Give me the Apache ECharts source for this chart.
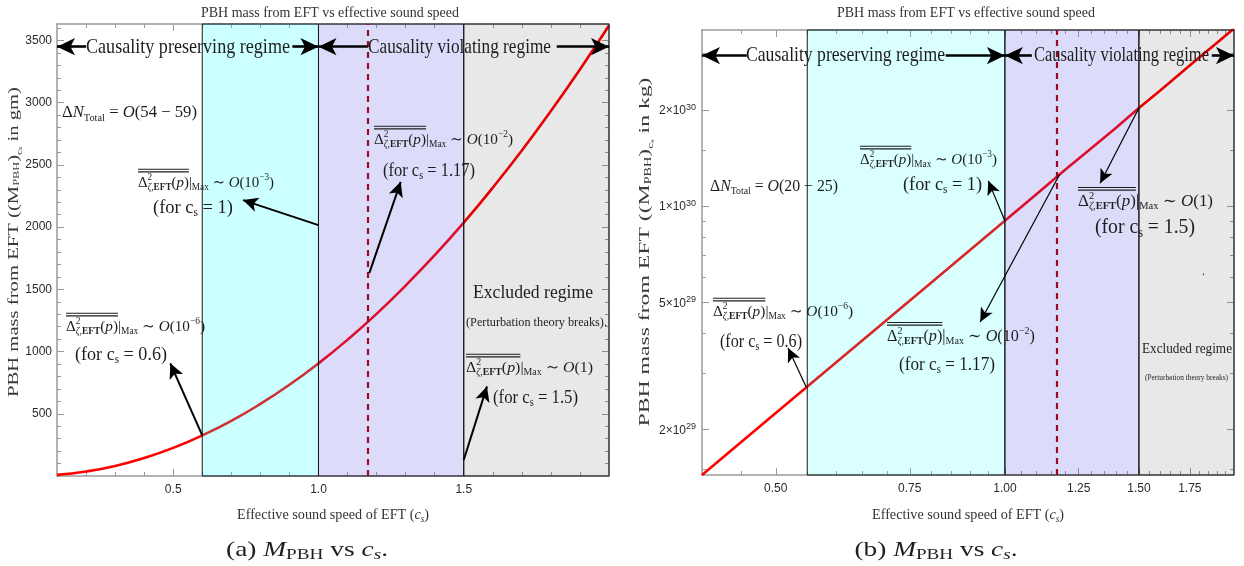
<!DOCTYPE html>
<html>
<head>
<meta charset="utf-8">
<script src="https://cdn.jsdelivr.net/npm/echarts@6/dist/echarts.min.js"></script>
<style>
  html, body { margin: 0; padding: 0; background: #fff; }
  #chart { width: 1244px; height: 566px; }
</style>
</head>
<body>
<div id="chart"></div>
<script>
// ---- Panel (a): PBH mass in grams against effective sound speed ----
const csA = [0.1, 0.2, 0.3, 0.4, 0.5, 0.6, 0.7, 0.8, 0.9, 1.0, 1.1, 1.2, 1.3, 1.4, 1.5, 1.6, 1.7, 1.8, 1.9, 2.0];
const massGm = [9, 36, 81, 145, 226, 326, 443, 579, 733, 905, 1095, 1303, 1530, 1774, 2036, 2317, 2615, 2932, 3267, 3620];

// ---- Panel (b): PBH mass in kilograms (log-log) ----
const csB = [0.4, 0.5, 0.6, 0.7, 0.8, 0.9, 1.0, 1.1, 1.2, 1.3, 1.4, 1.5, 1.6, 1.7, 1.8, 1.9, 2.0];
const massKg = [1.44e29, 2.25e29, 3.24e29, 4.41e29, 5.76e29, 7.29e29, 9.0e29, 1.09e30, 1.30e30, 1.52e30, 1.76e30, 2.03e30, 2.30e30, 2.60e30, 2.92e30, 3.25e30, 3.6e30];

// Regime boundaries: causal | causality violating | excluded
const regimesA = [0.6, 1.0, 1.5, 2.0];
const regimesB = [0.55, 1.0, 1.5, 2.0];
const csMarked = 1.17;

// Tick values
const xTicksA = [0.5, 1.0, 1.5];
const xMinorA = [0.2, 0.3, 0.4, 0.6, 0.7, 0.8, 0.9, 1.1, 1.2, 1.3, 1.4, 1.6, 1.7, 1.8, 1.9];
const yTicksA = [500, 1000, 1500, 2000, 2500, 3000, 3500];
const yMinorA = [100, 200, 300, 400, 600, 700, 800, 900, 1100, 1200, 1300, 1400, 1600, 1700, 1800, 1900,
                 2100, 2200, 2300, 2400, 2600, 2700, 2800, 2900, 3100, 3200, 3300, 3400, 3600];
const xTicksB = [0.5, 0.75, 1.0, 1.25, 1.5, 1.75];
const xMinorB = [0.45, 0.55, 0.6, 0.65, 0.7, 0.8, 0.85, 0.9, 0.95, 1.05, 1.1, 1.15, 1.2, 1.3, 1.35, 1.4, 1.45,
                 1.55, 1.6, 1.65, 1.7, 1.8, 1.85, 1.9, 1.95];
const yTicksB = [2e29, 5e29, 1e30, 2e30];
const yMinorB = [1.5e29, 3e29, 4e29, 6e29, 7e29, 8e29, 9e29, 1.5e30, 3e30];

// Annotation arrows [tail, head] in data coordinates
const arrowsA = {
  top: [[[0.2, 3450], [0.1, 3450]], [[0.91, 3450], [1.0, 3450]], [[1.17, 3450], [1.0, 3450]], [[1.82, 3450], [2.0, 3450]]],
  notes: [[[0.6, 326], [0.49, 905]], [[1.0, 2016], [0.74, 2217]], [[1.175, 1630], [1.283, 2364]], [[1.5, 128], [1.58, 720]]]
};
const arrowsB = {
  top: [[[0.458, 2.96e30], [0.4, 2.96e30]], [[0.836, 2.96e30], [1.0, 2.96e30]], [[1.085, 2.96e30], [1.0, 2.96e30]], [[1.87, 2.96e30], [2.0, 2.96e30]]],
  notes: [[[0.548, 2.72e29], [0.519, 3.6e29]], [[1.0, 9.0e29], [0.951, 1.2e30]], [[1.18, 1.257e30], [0.928, 4.34e29]], [[1.5, 2.03e30], [1.334, 1.18e30]]]
};

const FRAME = '#9a9a9a';
const INK = '#1e1e1e';
const SERIF = "'Liberation Serif','DejaVu Serif',serif";
const tickFont = { fontFamily: "'Liberation Sans Narrow','Liberation Sans',sans-serif", fontSize: 12, color: '#2a2a2a' };

// Four axes per direction: labelled + minor ticks, mirrored on the opposite side of the frame
function axisSet(kind, g, type, min, max, major, minor, label) {
  const pos = kind === 'x' ? ['bottom', 'top'] : ['left', 'right'];
  const base = { gridIndex: g, type: type, min: min, max: max, splitLine: { show: false }, splitArea: { show: false } };
  if (type === 'log') base.logBase = 10;
  const mk = (position, ticks, len, showLine, lab) => Object.assign({}, base, {
    position: position,
    axisLine: { show: showLine, onZero: false, lineStyle: { color: FRAME, width: 1.5 } },
    axisTick: { show: true, inside: true, length: len, customValues: ticks, lineStyle: { color: FRAME, width: 1 } },
    axisLabel: lab ? Object.assign({ customValues: major }, lab) : { show: false }
  });
  return [mk(pos[0], major, 7, true, label), mk(pos[0], minor, 4, false, null),
          mk(pos[1], major, 7, true, null), mk(pos[1], minor, 4, false, null)];
}

const xAxes = [].concat(
  axisSet('x', 0, 'value', 0.1, 2.0, xTicksA, xMinorA, Object.assign({ margin: 8, formatter: v => v.toFixed(1) }, tickFont)),
  axisSet('x', 1, 'log', 0.4, 2.0, xTicksB, xMinorB, Object.assign({ margin: 8, formatter: v => v.toFixed(2) }, tickFont))
);
const yAxes = [].concat(
  axisSet('y', 0, 'value', 0, 3632, yTicksA, yMinorA, Object.assign({ margin: 5, formatter: v => String(v) }, tickFont)),
  axisSet('y', 1, 'log', 1.44e29, 3.56e30, yTicksB, yMinorB, {
    margin: 6,
    formatter: v => {
      const e = Math.floor(Math.log10(v) + 1e-9);
      const m = Math.round(v / Math.pow(10, e));
      return '{m|' + m + '×10}{e|' + e + '}';
    },
    rich: {
      m: { fontFamily: tickFont.fontFamily, fontSize: 12, color: '#2a2a2a', verticalAlign: 'bottom', lineHeight: 14 },
      e: { fontFamily: tickFont.fontFamily, fontSize: 9, color: '#2a2a2a', verticalAlign: 'top', lineHeight: 10 }
    }
  })
);

function regimeAreas(b, cyanAlpha) {
  return [
    [{ xAxis: b[0], itemStyle: { color: 'rgba(0,255,255,' + cyanAlpha + ')' } }, { xAxis: b[1] }],
    [{ xAxis: b[1], itemStyle: { color: 'rgba(80,80,230,0.2)' } }, { xAxis: b[2] }],
    [{ xAxis: b[2], itemStyle: { color: 'rgba(0,0,0,0.09)' } }, { xAxis: b[3] }]
  ];
}

function arrowLines(set, topSize, noteSize, noteWidth) {
  const out = [];
  set.top.forEach(a => out.push([
    { coord: a[0], symbol: 'none', lineStyle: { width: 2.6 } },
    { coord: a[1], symbol: 'arrow', symbolSize: topSize }
  ]));
  set.notes.forEach(a => out.push([
    { coord: a[0], symbol: 'none', lineStyle: { width: noteWidth } },
    { coord: a[1], symbol: 'arrow', symbolSize: noteSize }
  ]));
  return out;
}

function panelSeries(xi, yi, cs, mass, regimes, cyanAlpha, arrows, topSize, noteSize, noteWidth, smooth) {
  return [
    {
      type: 'line', xAxisIndex: xi, yAxisIndex: yi, z: 2,
      data: cs.map((c, i) => [c, mass[i]]),
      smooth: smooth, symbol: 'none', showSymbol: false,
      lineStyle: { color: '#ff0000', width: 2.6 }, itemStyle: { color: '#ff0000' }
    },
    {
      type: 'line', xAxisIndex: xi, yAxisIndex: yi, z: 3, data: [], symbol: 'none',
      markArea: {
        z: 3, silent: true, label: { show: false },
        itemStyle: { borderColor: '#1a1a1a', borderWidth: 1 },
        data: regimeAreas(regimes, cyanAlpha)
      }
    },
    {
      type: 'line', xAxisIndex: xi, yAxisIndex: yi, z: 5, data: [], symbol: 'none', color: '#000',
      markLine: {
        z: 5, silent: true, animation: false, symbol: ['none', 'none'],
        label: { show: false }, itemStyle: { color: '#000' },
        lineStyle: { type: 'solid', color: '#000', width: 1.6 },
        data: [{ xAxis: csMarked, lineStyle: { type: [6, 5], color: '#9b0a22', width: 2.2 } }]
          .concat(arrowLines(arrows, topSize, noteSize, noteWidth))
      }
    }
  ];
}

// ---- Simple math typesetting for annotations (measured on a canvas) ----
const meas = document.createElement('canvas').getContext('2d');
function font(size, it, bd) { return (it ? 'italic ' : '') + (bd ? 'bold ' : '') + size.toFixed(2) + 'px ' + SERIF; }
function tw(t, size, it, bd) { meas.font = font(size, it, bd); return meas.measureText(t).width; }
function run(tokens, S, x0, acc) {
  let x = x0;
  tokens.forEach(tk => {
    if (tk.ol) { acc[tk.ol] = x; return; }
    if (tk.stack) {
      let w = 0;
      tk.stack.forEach(r => { w = Math.max(w, run(r, S, x, acc) - x); });
      x += w; return;
    }
    const size = S * (tk.k || 1);
    acc.items.push({ t: tk.t, x: x, y: (tk.dy || 0) * S, size: size, it: tk.it, bd: tk.bd });
    x += tw(tk.t, size, tk.it, tk.bd);
  });
  return x;
}
function textBlock(b) {
  const acc = { items: [] };
  const tokens = typeof b.tokens === 'string' ? [{ t: b.tokens }] : b.tokens;
  const width = run(tokens, b.S, 0, acc);
  const sx = b.w ? b.w / width : 1;
  const off = b.align === 'center' ? -width / 2 : 0;
  const color = b.color || INK;
  const children = acc.items.map(it => ({
    type: 'text', z: 100, x: it.x + off, y: it.y,
    style: { text: it.t, font: font(it.size, it.it, it.bd), fill: color, align: 'left', verticalAlign: 'middle' }
  }));
  if (acc.s != null) {
    const y0 = -0.74 * b.S;
    [y0, y0 - 2.6].forEach(yy => children.push({
      type: 'line', z: 100,
      shape: { x1: acc.s + off, y1: yy, x2: acc.e + off, y2: yy },
      style: { stroke: color, lineWidth: 1.1 }
    }));
  }
  return { type: 'group', x: b.x, y: b.y, scaleX: sx, rotation: b.rot || 0, children: children };
}

const sub = (t, extra) => Object.assign({ t: t, k: 0.62, dy: 0.28 }, extra);
const sup = (t, extra) => Object.assign({ t: t, k: 0.62, dy: -0.33 }, extra);
function spectrum(order) {
  const tail = order === null ? [{ t: '(1)' }] : [{ t: '(10' }, sup(order), { t: ')' }];
  return [{ ol: 's' }, { t: 'Δ' },
    { stack: [[sup('2')], [sub('ζ', { it: true }), sub(','), sub('EFT', { bd: true })]] },
    { t: '(' }, { t: 'p', it: true }, { t: ')' }, { ol: 'e' },
    { t: '|' }, sub('Max'), { t: ' ∼ ' }, { t: 'O', it: true }].concat(tail);
}
const forCs = v => [{ t: '(for c' }, sub('s'), { t: ' = ' + v + ')' }];
const efolds = r => [{ t: 'Δ' }, { t: 'N', it: true }, sub('Total'), { t: ' = ' }, { t: 'O', it: true }, { t: '(' + r + ')' }];
const xName = [{ t: 'Effective sound speed of EFT (' }, { t: 'c', it: true }, sub('s', { it: true }), { t: ')' }];
const yName = u => [{ t: 'PBH mass from EFT ((' }, { t: 'M' }, { t: 'PBH', k: 0.6, dy: 0.22 }, { t: ')' },
  { t: 'c', k: 0.55, dy: 0.38 }, { t: 's', k: 0.4, dy: 0.46 }, { t: ' in ' + u + ')' }];
const caption = l => [{ t: '(' + l + ') ' }, { t: 'M', it: true }, { t: 'PBH', k: 0.7, dy: 0.25 }, { t: ' vs ' },
  { t: 'c', it: true }, { t: 's', k: 0.7, dy: 0.25, it: true }, { t: '.' }];

const TITLE = 'PBH mass from EFT vs effective sound speed';
const blocks = [
  { x: 330, y: 13, w: 258, S: 14, align: 'center', tokens: TITLE, color: '#333' },
  { x: 966, y: 13, w: 258, S: 14, align: 'center', tokens: TITLE, color: '#333' },
  { x: 86, y: 47, w: 204, S: 21, tokens: 'Causality preserving regime' },
  { x: 368, y: 47, w: 183, S: 21, tokens: 'Causality violating regime' },
  { x: 746, y: 55, w: 199, S: 21, tokens: 'Causality preserving regime' },
  { x: 1034, y: 55, w: 175, S: 21, tokens: 'Causality violating regime' },
  { x: 62, y: 113, w: 135, S: 17, tokens: efolds('54 − 59') },
  { x: 710, y: 187, w: 128, S: 16, tokens: efolds('20 − 25') },
  // panel (a) notes
  { x: 138, y: 183, w: 136, S: 15, tokens: spectrum('−3') }, { x: 153, y: 208, w: 80, S: 19, tokens: forCs('1') },
  { x: 66, y: 327, w: 139, S: 15, tokens: spectrum('−6') }, { x: 75, y: 355, w: 92, S: 19, tokens: forCs('0.6') },
  { x: 374, y: 140, w: 139, S: 15, tokens: spectrum('−2') }, { x: 383, y: 171, w: 92, S: 19, tokens: forCs('1.17') },
  { x: 466, y: 368, w: 127, S: 15, tokens: spectrum(null) }, { x: 493, y: 398, w: 85, S: 19, tokens: forCs('1.5') },
  { x: 473, y: 293, w: 120, S: 19, tokens: 'Excluded regime' },
  { x: 466, y: 323, w: 141, S: 12, tokens: '(Perturbation theory breaks).' },
  // panel (b) notes
  { x: 860, y: 160, w: 137, S: 15, tokens: spectrum('−3') }, { x: 903, y: 185, w: 79, S: 19, tokens: forCs('1') },
  { x: 713, y: 312, w: 140, S: 15, tokens: spectrum('−6') }, { x: 720, y: 342, w: 82, S: 19, tokens: forCs('0.6') },
  { x: 887, y: 337, w: 148, S: 16, tokens: spectrum('−2') }, { x: 899, y: 365, w: 96, S: 19, tokens: forCs('1.17') },
  { x: 1078, y: 202, w: 135, S: 16, tokens: spectrum(null) }, { x: 1095, y: 227, w: 100, S: 22, tokens: forCs('1.5') },
  { x: 1142, y: 349, w: 90, S: 15, tokens: 'Excluded regime' },
  { x: 1145, y: 378, w: 83, S: 9, tokens: '(Perturbation theory breaks)' },
  { x: 1202, y: 272, S: 12, tokens: '.' },
  // axis names and captions
  { x: 333, y: 515, w: 192, S: 15, align: 'center', tokens: xName, color: '#333' },
  { x: 968, y: 515, w: 192, S: 15, align: 'center', tokens: xName, color: '#333' },
  { x: 14, y: 242, w: 310, S: 14.5, align: 'center', rot: Math.PI / 2, tokens: yName('gm'), color: '#3a3a3a' },
  { x: 645, y: 252, w: 349, S: 15.5, align: 'center', rot: Math.PI / 2, tokens: yName('kg'), color: '#3a3a3a' },
  { x: 307, y: 550, w: 162, S: 21, align: 'center', tokens: caption('a') },
  { x: 936, y: 550, w: 163, S: 21, align: 'center', tokens: caption('b') }
];

const chart = echarts.init(document.getElementById('chart'), null, { renderer: 'canvas' });
chart.setOption({
  animation: false,
  backgroundColor: '#fff',
  grid: [
    { left: 57, top: 24, width: 552, height: 452 },
    { left: 702, top: 30, width: 532, height: 445 }
  ],
  xAxis: xAxes,
  yAxis: yAxes,
  series: [].concat(
    panelSeries(0, 0, csA, massGm, regimesA, 0.2, arrowsA, [13, 18], [11, 15], 2.0, true),
    panelSeries(4, 4, csB, massKg, regimesB, 0.15, arrowsB, [13, 18], [10, 14], 1.2, false)
  ),
  graphic: blocks.map(textBlock)
});
</script>
</body>
</html>
